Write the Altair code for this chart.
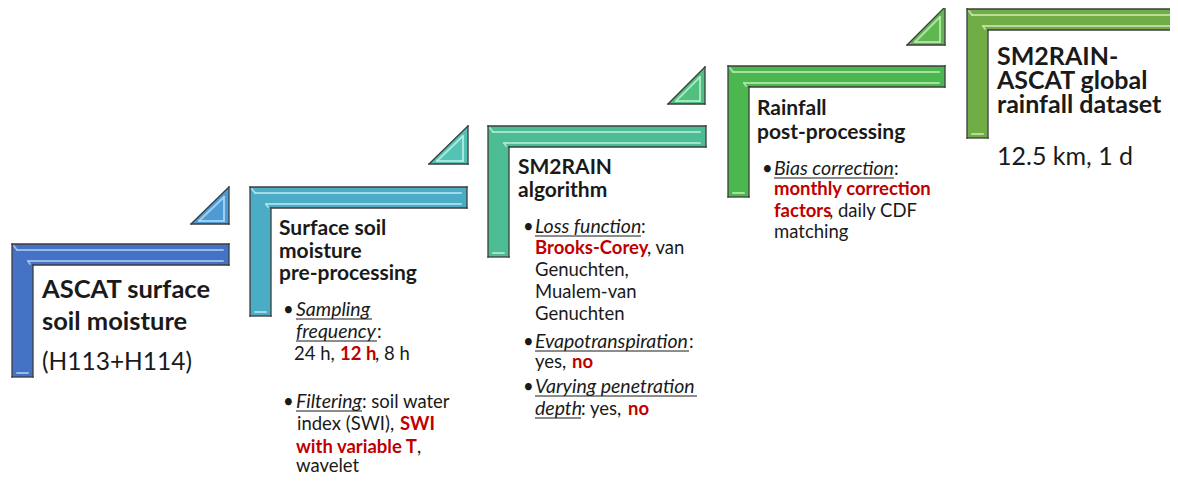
import altair as alt
import pandas as pd

# ---------------- canvas ----------------
W, H = 1162, 465          # plot area (page has 8px margin)
X0, Y0 = 8, 8             # page offset of plot origin

# ---------------- L-shaped steps ----------------
step_left = [12, 250, 488, 728, 967]
step_top = [244, 187, 126, 66, 9]
step_right = [229, 467, 706, 945, 1190]
step_bottom = [377, 316, 257, 197, 138]
bar_w = 21
step_fill = ["#4472C4", "#4BACC6", "#4CBC92", "#4DB74F", "#70AD47"]
step_light = ["#A9C4F0", "#B2E2EE", "#B0EAD3", "#B5E8B0", "#C5E4AE"]

# ---------------- small triangles ----------------
tri_left = [191, 429, 668, 907]
tri_right = [229, 468, 705, 945]
tri_top = [187, 126, 67, 7]
tri_bottom = [224, 164, 104, 45]
tri_fill = ["#4E9AD4", "#55C3B4", "#4FC07E", "#5EB84F"]
tri_light = ["#B0D6F2", "#B6EDE4", "#B4EDCB", "#BDE8B3"]

# ---------------- titles ----------------
title_text = ["ASCAT surface", "soil moisture",
              "Surface soil", "moisture", "pre-processing",
              "SM2RAIN", "algorithm",
              "Rainfall", "post-processing",
              "SM2RAIN-", "ASCAT global", "rainfall dataset"]
title_x = [42, 42, 279, 279, 279, 518, 518, 757, 757, 997, 997, 997]
title_y = [298, 330, 235, 258, 280, 174, 197, 115, 139, 65, 89, 113]
title_size = [25.5, 25.5, 21, 21, 21, 21, 21, 21, 21, 25, 25, 25]

# ---------------- large regular labels ----------------
big_text = ["(H113+H114)", "12.5 km, 1 d"]
big_x = [42, 997]
big_y = [370, 165]
big_size = [24.5, 25]

# ---------------- bullets ----------------
bullet_x = [283, 283, 523, 523, 523, 762]
bullet_y = [316, 408, 233, 348, 393, 175]

# ---------------- body runs (u = italic underlined, r = red bold, n = normal) ----------------
run_text = ["Sampling", "frequency", ":", "24 h, ", "12 h", ", 8 h",
            "Filtering", ": soil water", "index (SWI), ", "SWI", "with variable T", ",", "wavelet",
            "Loss function", ":", "Brooks-Corey", ", van", "Genuchten,", "Mualem-van", "Genuchten",
            "Evapotranspiration", ":", "yes, ", "no", "Varying penetration", "depth", ": yes, ", "no",
            "Bias correction", ":", "monthly correction", "factors", ", daily CDF", "matching"]
run_x = [296, 296, 377, 294, 340, 375,
         296, 362, 297, 400, 296, 417, 296,
         535, 641, 535, 647, 535, 535, 535,
         535, 689, 535, 572, 535, 535, 581, 628,
         774, 894, 774, 774, 829, 774]
run_y = [316, 338, 338, 360, 360, 360,
         408, 408, 430, 430, 453, 453, 472,
         233, 233, 254, 254, 276, 298, 320,
         348, 348, 368, 368, 393, 415, 415, 415,
         175, 175, 195, 217, 217, 238]
run_kind = ["u", "u", "n", "n", "r", "n",
            "u", "n", "n", "r", "r", "n", "n",
            "u", "n", "r", "n", "n", "n", "n",
            "u", "n", "n", "r", "u", "u", "n", "r",
            "u", "n", "r", "r", "n", "n"]

# underlines under the italic terms
ul_x1 = [296, 296, 296, 535, 535, 535, 535, 774]
ul_x2 = [372, 377, 362, 641, 689, 697, 581, 894]
ul_y = [319, 341, 411, 236, 351, 396, 418, 178]

FONT = "Lato"
BODY = 18.5
BODY_IT = 19.5
RED = "#C00000"
INK = "#1A1A1A"
EDGE = "#3C3C3C"

# ---------------- build tables ----------------
rects = []
segs = []     # outline segments
hls = []      # highlight segments
for i in range(5):
    L, T, R, B = step_left[i], step_top[i], step_right[i], step_bottom[i]
    ix, iy = L + bar_w, T + bar_w
    sid = f"s{i}"
    rects.append(dict(id=sid, x=L, x2=R, y=T, y2=iy))
    rects.append(dict(id=sid, x=L, x2=ix, y=T, y2=B))
    pts = [(L, T), (R, T), (R, iy), (ix, iy), (ix, B), (L, B), (L, T)]
    for (a, b), (c, d) in zip(pts[:-1], pts[1:]):
        segs.append(dict(x=a, y=b, x2=c, y2=d))
    hl = step_light[i]
    hls.append(dict(x=L + 5, y=T + 6, x2=R - 6, y2=T + 6, c=hl))
    hls.append(dict(x=ix - 5, y=iy - 4, x2=R - 6, y2=iy - 4, c=hl))
    hls.append(dict(x=L + 2, y=T + 2, x2=L + 5, y2=T + 6, c=hl))
    hls.append(dict(x=ix - 5, y=iy - 4, x2=ix - 3, y2=iy - 1, c=hl))
    hls.append(dict(x=L + 5, y=B - 4, x2=ix - 5, y2=B - 4, c=hl))

tris = []
for i in range(4):
    tl, tr, tt, tb = tri_left[i], tri_right[i], tri_top[i], tri_bottom[i]
    tid = f"t{i}"
    tris.append(dict(id=tid, x=tl, y=tb, y2=tb))
    tris.append(dict(id=tid, x=tr, y=tt, y2=tb))
    for (a, b), (c, d) in [((tl, tb), (tr, tt)), ((tr, tt), (tr, tb)), ((tr, tb), (tl, tb))]:
        segs.append(dict(x=a, y=b, x2=c, y2=d))
    hl = tri_light[i]
    hls.append(dict(x=tl + 8, y=tb - 3, x2=tr - 5, y2=tt + 10, c=hl))
    hls.append(dict(x=tr - 5, y=tt + 10, x2=tr - 5, y2=tb - 3, c=hl))
    hls.append(dict(x=tl + 8, y=tb - 3, x2=tr - 5, y2=tb - 3, c=hl))

rect_df = pd.DataFrame(rects)
seg_df = pd.DataFrame(segs)
hl_df = pd.DataFrame(hls)
tri_df = pd.DataFrame(tris)

titles_df = pd.DataFrame(dict(t=title_text, x=title_x, y=title_y, s=title_size))
big_df = pd.DataFrame(dict(t=big_text, x=big_x, y=big_y, s=big_size))
bul_df = pd.DataFrame(dict(t=["•"] * len(bullet_x), x=bullet_x, y=bullet_y))
runs_df = pd.DataFrame(dict(t=run_text, x=run_x, y=run_y, k=run_kind))
ul_df = pd.DataFrame(dict(x=ul_x1, x2=ul_x2, y=ul_y))

xs = alt.Scale(domain=[X0, X0 + W], range=[0, W])
ys = alt.Scale(domain=[Y0, Y0 + H], range=[0, H])
X = lambda f="x": alt.X(f"{f}:Q", scale=xs, axis=None)
Y = lambda f="y": alt.Y(f"{f}:Q", scale=ys, axis=None)

ids = [f"s{i}" for i in range(5)] + [f"t{i}" for i in range(4)]
cols = step_fill + tri_fill
fill_scale = alt.Scale(domain=ids, range=cols)

bars = alt.Chart(rect_df).mark_rect(clip=True).encode(
    x=X(), x2="x2:Q", y=Y(), y2="y2:Q",
    color=alt.Color("id:N", scale=fill_scale, legend=None))

tri_area = alt.Chart(tri_df).mark_area(interpolate="linear").encode(
    x=X(), y=Y(), y2="y2:Q", detail="id:N",
    color=alt.Color("id:N", scale=fill_scale, legend=None))

hl_rules = alt.Chart(hl_df).mark_rule(strokeWidth=2, strokeCap="round", opacity=0.85, clip=True).encode(
    x=X(), x2="x2:Q", y=Y(), y2="y2:Q",
    color=alt.Color("c:N", scale=None))

edge_rules = alt.Chart(seg_df).mark_rule(strokeWidth=1.3, strokeCap="square", color=EDGE, clip=True).encode(
    x=X(), x2="x2:Q", y=Y(), y2="y2:Q")

title_marks = alt.Chart(titles_df).mark_text(
    align="left", baseline="alphabetic", font=FONT, fontWeight="bold", color=INK).encode(
    x=X(), y=Y(), text="t:N", size=alt.Size("s:Q", scale=None, legend=None))

big_marks = alt.Chart(big_df).mark_text(
    align="left", baseline="alphabetic", font=FONT, color=INK).encode(
    x=X(), y=Y(), text="t:N", size=alt.Size("s:Q", scale=None, legend=None))

bullets = alt.Chart(bul_df).mark_text(
    align="left", baseline="alphabetic", font=FONT, fontSize=BODY, color=INK).encode(
    x=X(), y=Y(), text="t:N")

norm = alt.Chart(runs_df).transform_filter(alt.datum.k == "n").mark_text(
    align="left", baseline="alphabetic", font=FONT, fontSize=BODY, color=INK).encode(
    x=X(), y=Y(), text="t:N")
ital = alt.Chart(runs_df).transform_filter(alt.datum.k == "u").mark_text(
    align="left", baseline="alphabetic", font=FONT, fontSize=BODY_IT, fontStyle="italic", color=INK).encode(
    x=X(), y=Y(), text="t:N")
red = alt.Chart(runs_df).transform_filter(alt.datum.k == "r").mark_text(
    align="left", baseline="alphabetic", font=FONT, fontSize=BODY, fontWeight="bold", color=RED).encode(
    x=X(), y=Y(), text="t:N")

underlines = alt.Chart(ul_df).mark_rule(strokeWidth=1, color=INK).encode(
    x=X(), x2="x2:Q", y=Y(), y2=alt.Y2("y:Q"))

chart = alt.layer(
    bars, tri_area, hl_rules, edge_rules,
    title_marks, big_marks, bullets, norm, ital, red, underlines
).properties(
    width=W, height=H, padding=0, autosize=alt.AutoSizeParams(type="none"),
    background="white"
).configure_view(stroke=None)

chart.save("out.html", embed_options={"renderer": "svg", "actions": False})
